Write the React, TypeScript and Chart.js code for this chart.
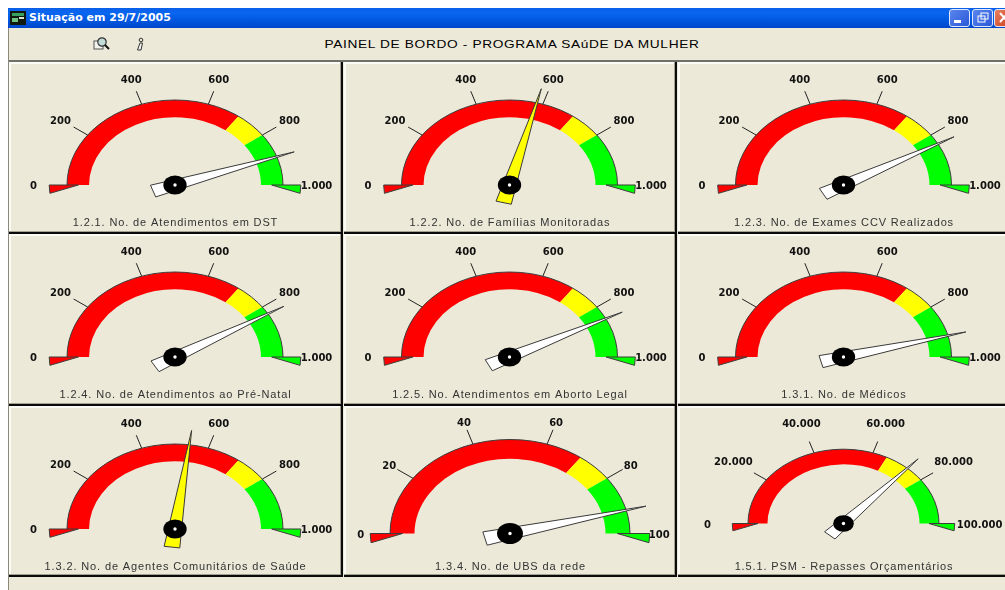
import React, { useEffect, useRef } from "react";
import { Chart, registerables } from "chart.js";

Chart.register(...registerables);

// Indicator captions, one per dial, left to right and top to bottom.
const gaugeTitles = [
  "1.2.1. No. de Atendimentos em DST",
  "1.2.2. No. de Famílias Monitoradas",
  "1.2.3. No. de Exames CCV Realizados",
  "1.2.4. No. de Atendimentos ao Pré-Natal",
  "1.2.5. No. Atendimentos em Aborto Legal",
  "1.3.1. No. de Médicos",
  "1.3.2. No. de Agentes Comunitários de Saúde",
  "1.3.4. No. de UBS da rede",
  "1.5.1. PSM - Repasses Orçamentários",
];

const needleValues = [892, 581, 839, 830, 851, 919, 542, 92, 73300];
const needleFills = ["#ffffff", "#ffff00", "#ffffff", "#ffffff", "#ffffff", "#ffffff", "#ffff00", "#ffffff", "#ffffff"];

const gaugeMaxima = [1000, 1000, 1000, 1000, 1000, 1000, 1000, 100, 100000];
const redLimits = [700, 700, 700, 700, 700, 700, 700, 70, 65000];
const yellowLimits = [800, 800, 800, 800, 800, 800, 800, 80, 80000];

const countTicks = [0, 200, 400, 600, 800, 1000];
const countLabels = ["0", "200", "400", "600", "800", "1.000"];
const unitTicks = [0, 20, 40, 60, 80, 100];
const unitLabels = ["0", "20", "40", "60", "80", "100"];
const budgetTicks = [0, 20000, 40000, 60000, 80000, 100000];
const budgetLabels = ["0", "20.000", "40.000", "60.000", "80.000", "100.000"];

const dialTicks = [countTicks, countTicks, countTicks, countTicks, countTicks, countTicks, countTicks, unitTicks, budgetTicks];
const dialLabels = [countLabels, countLabels, countLabels, countLabels, countLabels, countLabels, countLabels, unitLabels, budgetLabels];

const ZONE_COLORS = ["#ff0000", "#ffff00", "#00ff00"];
const FACE = "#ece9d8";

// Panel grid: [left, width] per column and [top, height] per row.
const COLUMNS = [[9, 334], [344, 333], [678, 327]];
const ROWS = [[62, 172], [234, 172], [406, 171]];

// Dial geometry, in page pixels.
const DIALS = [
  { cx: 175, cy: 185, rx: 108, ry: 85, labelAt: 1.31, captionY: 223 },
  { cx: 509.5, cy: 185, rx: 108, ry: 85, labelAt: 1.31, captionY: 223 },
  { cx: 843.5, cy: 185, rx: 108, ry: 85, labelAt: 1.31, captionY: 223 },
  { cx: 175, cy: 357, rx: 108, ry: 85, labelAt: 1.31, captionY: 395 },
  { cx: 509.5, cy: 357, rx: 108, ry: 85, labelAt: 1.31, captionY: 395 },
  { cx: 843.5, cy: 357, rx: 108, ry: 85, labelAt: 1.31, captionY: 395 },
  { cx: 175, cy: 529, rx: 108, ry: 85, labelAt: 1.31, captionY: 566.5 },
  { cx: 510, cy: 533.5, rx: 120, ry: 94, labelAt: 1.243, captionY: 566.5 },
  { cx: 843.5, cy: 523.5, rx: 95.5, ry: 74.3, labelAt: 1.425, captionY: 566.5 },
];

// Squashes the round doughnut into the dial's ellipse and paints ticks, needle and caption on top.
const dialPlugin = {
  id: "dial",
  beforeDatasetsDraw(chart: any, _args: any, opts: any) {
    const arc = chart.getDatasetMeta(0).data[0];
    const { ctx } = chart;
    ctx.save();
    ctx.translate(arc.x, arc.y);
    ctx.scale(1, opts.squash);
    ctx.translate(-arc.x, -arc.y);
  },
  afterDatasetsDraw(chart: any, _args: any, opts: any) {
    const { ctx } = chart;
    ctx.restore();

    const arc = chart.getDatasetMeta(0).data[0];
    const rx = arc.outerRadius;
    const ry = rx * opts.squash;
    const cx = arc.x;
    const cy = arc.y;
    const scale = chart.scales.dial;
    const angleOf = (v: number) => Math.PI * (1 - scale.getDecimalForPixel(scale.getPixelForValue(v)));
    const at = (u: number, v: number): [number, number] => [cx + u * rx, cy - v * ry];

    // Outer rim of the band.
    ctx.strokeStyle = "#3c3c3c";
    ctx.lineWidth = 1;
    ctx.beginPath();
    ctx.ellipse(cx, cy, rx, ry, 0, Math.PI, 2 * Math.PI);
    ctx.stroke();

    // End flags for the scale's minimum and maximum.
    [-1, 1].forEach((side, i) => {
      ctx.beginPath();
      ctx.moveTo(...at(side * 1.165, 0));
      ctx.lineTo(...at(side * 0.895, 0));
      ctx.lineTo(...at(side * 1.158, -0.098));
      ctx.closePath();
      ctx.fillStyle = ZONE_COLORS[i * 2];
      ctx.fill();
      ctx.strokeStyle = "#3c3c3c";
      ctx.stroke();
    });

    // Ticks and their labels.
    ctx.font = "bold 10px 'DejaVu Sans'";
    ctx.textAlign = "center";
    ctx.textBaseline = "middle";
    opts.ticks.forEach((value: number, i: number) => {
      const a = angleOf(value);
      const c = Math.cos(a);
      const s = Math.sin(a);
      if (i > 0 && i < opts.ticks.length - 1) {
        ctx.strokeStyle = "#222222";
        ctx.beginPath();
        ctx.moveTo(...at(c, s));
        ctx.lineTo(...at(1.16 * c, 1.16 * s));
        ctx.stroke();
      }
      ctx.fillStyle = "#111111";
      const [lx, ly] = at(opts.labelAt * c, opts.labelAt * s);
      ctx.fillText(opts.labels[i], lx, ly + 1.5);
    });

    // Needle: a long wedge through the hub.
    const a = angleOf(opts.needle);
    const c = Math.cos(a);
    const s = Math.sin(a);
    ctx.beginPath();
    ctx.moveTo(...at(1.17 * c, 1.17 * s));
    ctx.lineTo(...at(-0.215 * c - 0.073 * s, -0.215 * s + 0.073 * c));
    ctx.lineTo(...at(-0.215 * c + 0.073 * s, -0.215 * s - 0.073 * c));
    ctx.closePath();
    ctx.fillStyle = opts.needleFill;
    ctx.fill();
    ctx.strokeStyle = "#3a3a3a";
    ctx.stroke();

    // Hub.
    ctx.fillStyle = "#000000";
    ctx.beginPath();
    ctx.ellipse(cx, cy, 0.108 * rx, 0.112 * ry, 0, 0, 2 * Math.PI);
    ctx.fill();
    ctx.fillStyle = "#ffffff";
    ctx.beginPath();
    ctx.arc(cx, cy, 1.7, 0, 2 * Math.PI);
    ctx.fill();

    // Caption.
    ctx.font = "11px 'Liberation Sans'";
    ctx.letterSpacing = "0.87px";
    ctx.fillStyle = "#333333";
    ctx.fillText(opts.caption, opts.captionX, opts.captionY);
    ctx.letterSpacing = "0px";
  },
};

function Gauge({ index }: { index: number }) {
  const ref = useRef<HTMLCanvasElement>(null);
  const col = COLUMNS[index % 3];
  const row = ROWS[Math.floor(index / 3)];
  const dial = DIALS[index];
  const lastColumn = index % 3 === 2;

  useEffect(() => {
    const max = gaugeMaxima[index];
    const red = redLimits[index];
    const yellow = yellowLimits[index];
    const localX = dial.cx - col[0];
    const localY = dial.cy - row[0];
    const chart = new Chart(ref.current as HTMLCanvasElement, {
      type: "doughnut",
      data: {
        labels: ["Crítico", "Alerta", "Adequado"],
        datasets: [
          {
            data: [red, yellow - red, max - yellow],
            backgroundColor: ZONE_COLORS,
            borderWidth: 0,
          },
        ],
      },
      options: {
        animation: false,
        responsive: false,
        rotation: -90,
        circumference: 180,
        cutout: "79.6%",
        layout: {
          padding: {
            left: localX - dial.rx,
            right: col[1] - localX - dial.rx,
            top: localY - dial.rx,
            bottom: row[1] - localY,
          },
        },
        scales: {
          dial: { type: "linear", axis: "x", position: "bottom", min: 0, max, display: false },
        },
        plugins: {
          legend: { display: false },
          tooltip: { enabled: false },
          dial: {
            squash: dial.ry / dial.rx,
            labelAt: dial.labelAt,
            ticks: dialTicks[index],
            labels: dialLabels[index],
            needle: needleValues[index],
            needleFill: needleFills[index],
            caption: gaugeTitles[index],
            captionX: localX + 0.5,
            captionY: dial.captionY - row[0],
          },
        } as any,
      } as any,
      plugins: [dialPlugin as any],
    });
    return () => chart.destroy();
  }, [index]);

  return (
    <div
      style={{
        position: "absolute",
        left: col[0],
        top: row[0],
        width: col[1],
        height: row[1],
        background: FACE,
        boxSizing: "border-box",
      }}
    >
      <canvas ref={ref} width={col[1]} height={row[1]} style={{ display: "block", position: "absolute", left: 0, top: 0 }} />
      {/* Raised panel edges */}
      <div style={{ position: "absolute", left: 0, top: 0, width: col[1], height: 2, background: "#fbfaf5" }} />
      <div style={{ position: "absolute", left: 0, top: 0, width: 2, height: row[1], background: "#fbfaf5" }} />
      {!lastColumn && <div style={{ position: "absolute", right: 1, top: 0, width: 2, height: row[1], background: "#a3a190" }} />}
      <div style={{ position: "absolute", left: 0, bottom: 1, width: col[1], height: 2, background: "#a3a190" }} />
      {!lastColumn && <div style={{ position: "absolute", right: 0, top: 0, width: 2, height: row[1], background: "#0a0a0a" }} />}
      <div style={{ position: "absolute", left: 0, bottom: 0, width: col[1], height: 2, background: "#0a0a0a" }} />
    </div>
  );
}

const capButton = (x: number, bg: string, children: React.ReactNode) => (
  <div
    style={{
      position: "absolute",
      left: x,
      top: 9,
      width: 19,
      height: 16,
      borderRadius: 3,
      border: "1px solid #dfe8fb",
      background: bg,
      overflow: "hidden",
    }}
  >
    {children}
  </div>
);

export default function App() {
  const indices = [0, 1, 2, 3, 4, 5, 6, 7, 8];
  return (
    <div style={{ position: "fixed", left: 0, top: 0, width: 1005, height: 590, background: "#ffffff", overflow: "hidden" }}>
      {/* Window title bar */}
      <div
        style={{
          position: "absolute",
          left: 8,
          top: 8,
          width: 997,
          height: 20,
          background: "linear-gradient(180deg,#0a5fe8 0%,#0a66f0 25%,#0058e0 60%,#0046cc 100%)",
        }}
      />
      <svg style={{ position: "absolute", left: 10, top: 11 }} width={16} height={14}>
        <rect x={0} y={0} width={16} height={14} fill="#101810" />
        <rect x={2} y={2} width={12} height={3} fill="#3aa060" />
        <rect x={2} y={7} width={6} height={4} fill="#70c080" />
        <rect x={9} y={6} width={5} height={2} fill="#d8e8d0" />
      </svg>
      <div
        style={{
          position: "absolute",
          left: 29,
          top: 10,
          font: "bold 11px 'DejaVu Sans'",
          color: "#ffffff",
          whiteSpace: "nowrap",
          lineHeight: "16px",
        }}
      >
        Situação em 29/7/2005
      </div>
      {capButton(949, "linear-gradient(135deg,#5a86ee,#2a58d8)",
        <div style={{ position: "absolute", left: 4, top: 10, width: 7, height: 3, background: "#ffffff" }} />)}
      {capButton(972, "linear-gradient(135deg,#5a86ee,#2a58d8)",
        <svg width={19} height={16} style={{ display: "block" }}>
          <rect x={5} y={6} width={7} height={6} fill="none" stroke="#fff" />
          <rect x={8} y={3} width={7} height={6} fill="none" stroke="#fff" />
        </svg>)}
      {capButton(994, "linear-gradient(135deg,#e88060,#c83c18)",
        <svg width={19} height={16} style={{ display: "block" }}>
          <path d="M5 3 L13 12 M13 3 L5 12" stroke="#fff" strokeWidth={2} />
        </svg>)}

      {/* Toolbar strip */}
      <div style={{ position: "absolute", left: 8, top: 28, width: 997, height: 562, background: FACE }} />
      <div style={{ position: "absolute", left: 8, top: 28, width: 1, height: 562, background: "#8a8a7c" }} />
      <svg style={{ position: "absolute", left: 92, top: 36 }} width={20} height={16}>
        <rect x={2} y={5} width={9} height={8} fill="#f4f4ee" stroke="#555" />
        <circle cx={10} cy={6} r={4.2} fill="#c4dcd8" stroke="#333" strokeWidth={1.2} />
        <path d="M13 9 L17 13" stroke="#111" strokeWidth={2} />
      </svg>
      <svg style={{ position: "absolute", left: 134, top: 36 }} width={12} height={17}>
        <circle cx={7} cy={4} r={1.8} fill="none" stroke="#333" />
        <path d="M6 7 L3.5 14 L7 14 L8.5 7 Z" fill="#f4f4ee" stroke="#333" />
      </svg>
      <div
        style={{
          position: "absolute",
          left: 262,
          width: 500,
          top: 36,
          textAlign: "center",
          font: "11.5px 'Liberation Sans'",
          letterSpacing: "0.55px",
          color: "#000000",
          whiteSpace: "nowrap",
          lineHeight: "16px",
          transform: "scaleX(1.19)",
          transformOrigin: "center",
        }}
      >
        PAINEL DE BORDO - PROGRAMA SAúDE DA MULHER
      </div>
      <div style={{ position: "absolute", left: 9, top: 60, width: 996, height: 2, background: "#70706a" }} />

      {indices.map((i) => (
        <Gauge key={i} index={i} />
      ))}
    </div>
  );
}
